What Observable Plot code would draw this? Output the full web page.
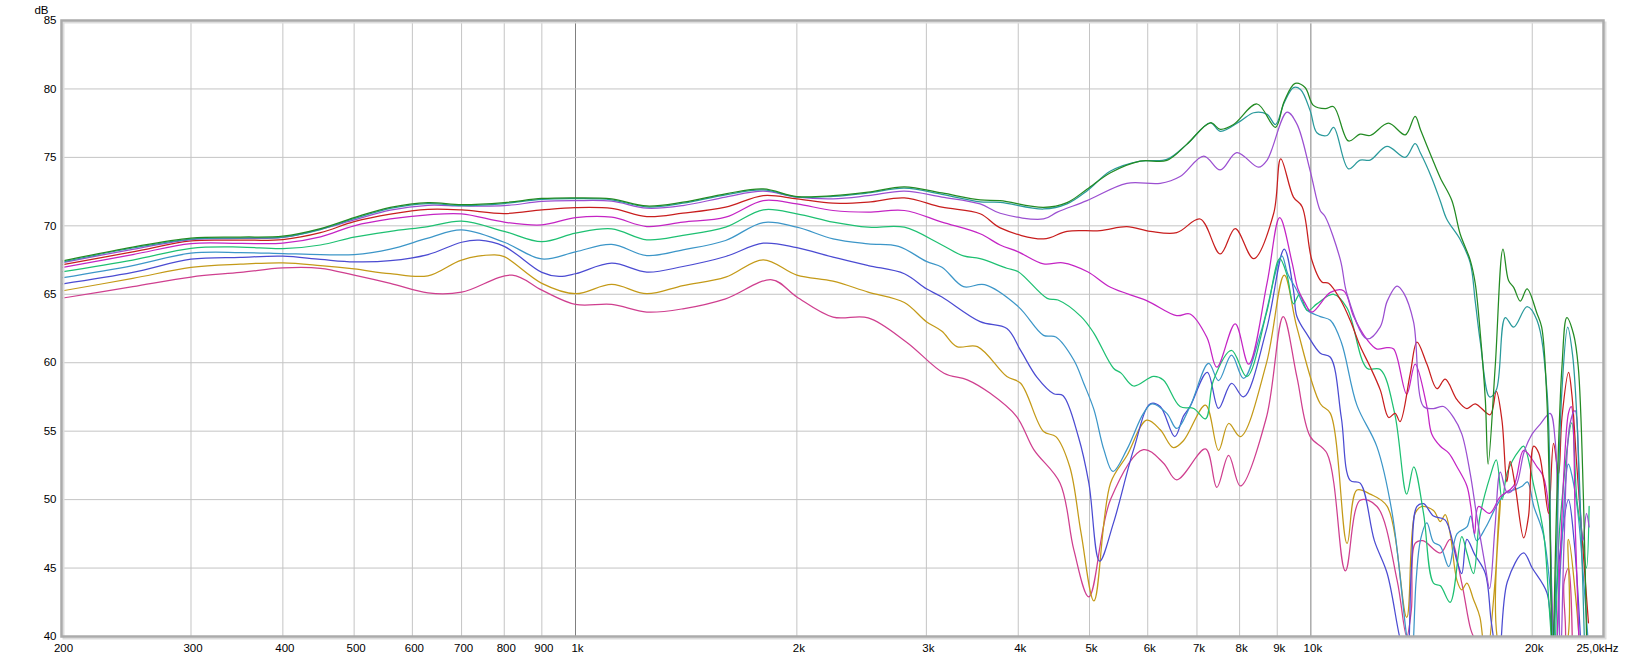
<!DOCTYPE html>
<html><head><meta charset="utf-8">
<script src="https://cdn.jsdelivr.net/npm/d3@7"></script>
<script src="https://cdn.jsdelivr.net/npm/@observablehq/plot@0.6"></script>
<style>html,body{margin:0;padding:0;background:#fff}svg{display:block}</style>
</head><body><div id="chart"></div>
<script>
// Series (off-axis angles) and their colours
const seriesNames = ["0°","10°","20°","30°","40°","50°","60°","70°","80°","90°"];
const seriesColors = ["#238b23","#2a9a9c","#9b4fd1","#c81e1e","#c424c4","#1ec072","#3c96c8","#4b4bd2","#c49a18","#cf3f8f"];

// [frequency Hz, level dB]
const deg0 = [[200,67.42],[250,68.45],[300,69.1],[350,69.18],[400,69.25],[450,69.8],[500,70.6],[560,71.35],[630,71.7],[700,71.55],[800,71.7],[900,72.0],[1000,72.05],[1120,71.97],[1250,71.45],[1400,71.73],[1600,72.34],[1800,72.7],[2000,72.14],[2240,72.2],[2500,72.46],[2800,72.85],[3150,72.4],[3550,71.9],[3780,71.84],[4330,71.35],[4660,71.7],[4960,72.67],[5340,73.88],[5860,74.73],[6370,74.78],[6780,75.95],[7300,77.53],[7530,77.05],[7850,77.4],[8450,78.9],[8950,77.2],[9200,79.1],[9520,80.4],[9820,80.1],[10080,78.8],[10460,78.56],[10740,78.7],[11250,76.2],[11670,76.7],[12040,76.6],[12750,77.5],[13440,76.65],[13860,78.0],[14100,77.0],[14600,75.0],[15000,73.5],[15550,71.85],[15960,69.4],[16470,67.5],[16730,65.8],[17000,62.1],[17270,57.25],[17420,52.6],[17810,59.7],[18250,68.3],[18570,66.0],[18870,65.5],[19270,64.5],[19680,65.4],[20300,63.6],[20600,62.6],[20940,57.25],[21150,47.5],[21300,38],[21600,50],[21950,59.7],[22290,63.3],[22760,62.1],[23100,59.7],[23480,50],[23750,38]];
const deg10 = [[200,67.35],[250,68.38],[300,69.03],[350,69.11],[400,69.18],[450,69.73],[500,70.52],[560,71.27],[630,71.62],[700,71.48],[800,71.63],[900,71.93],[1000,71.98],[1120,71.9],[1250,71.38],[1400,71.66],[1600,72.27],[1800,72.62],[2000,72.1],[2240,72.15],[2500,72.4],[2800,72.75],[3150,72.3],[3550,71.75],[3780,71.72],[4330,71.23],[4660,71.6],[4960,72.55],[5340,74.0],[5860,74.73],[6370,74.85],[6780,75.95],[7300,77.53],[7530,76.9],[8020,77.65],[8360,78.26],[8720,78.14],[8950,77.4],[9200,79.0],[9470,80.1],[9680,79.96],[9980,78.4],[10190,76.8],[10520,76.6],[10740,77.2],[11250,74.16],[11670,74.8],[12040,74.8],[12690,75.8],[13440,75.0],[13860,76.0],[14100,75.3],[14600,73.5],[15000,71.8],[15300,70.5],[15960,69.0],[16470,67.3],[16730,64.5],[17000,61.5],[17500,57.5],[17870,58.0],[18380,63.3],[18870,62.6],[19680,64.1],[20300,63.1],[20940,58.0],[21200,46],[21350,38],[21600,47],[21950,58],[22350,62.6],[22700,60.5],[23000,56],[23300,48],[23600,38]];
const deg20 = [[200,67.3],[250,68.28],[300,69.0],[350,69.08],[400,69.15],[450,69.75],[500,70.43],[560,71.15],[630,71.5],[700,71.45],[800,71.47],[900,71.78],[1000,71.84],[1120,71.8],[1250,71.29],[1400,71.48],[1600,72.1],[1800,72.53],[2000,72.1],[2240,71.97],[2500,72.2],[2800,72.53],[3150,72.1],[3550,71.6],[3780,70.92],[4330,70.5],[4520,71.0],[4960,71.84],[5620,73.1],[6240,73.1],[6640,73.6],[7150,75.1],[7530,74.08],[7930,75.35],[8490,74.28],[8720,74.8],[9280,78.3],[9570,77.45],[9980,74.0],[10300,71.1],[10450,70.7],[10970,67.5],[11200,65.0],[11920,61.74],[12420,62.6],[12700,64.5],[13100,65.6],[13370,65.1],[13790,63.0],[14230,56.8],[14680,56.65],[15150,56.8],[15630,56.0],[16040,54.8],[16470,51.9],[16810,48.8],[17270,45.1],[17500,43.5],[17800,48],[18100,52],[18500,50.5],[19000,51],[19500,53.5],[20000,54.8],[20500,55.5],[21150,56.3],[21490,54.3],[21700,46],[21850,38],[22100,47],[22500,55.5],[22870,56.5],[23200,50],[23450,47],[23700,49],[23900,48]];
const deg30 = [[200,67.15],[250,68.1],[300,68.9],[350,68.95],[400,69.0],[450,69.5],[500,70.3],[560,70.85],[630,71.2],[700,71.16],[800,70.9],[900,71.16],[1000,71.33],[1120,71.27],[1250,70.68],[1400,70.92],[1600,71.36],[1800,72.21],[2000,71.97],[2240,71.65],[2500,71.73],[2800,72.04],[3150,71.36],[3550,70.88],[3780,69.85],[4330,69.04],[4660,69.6],[5170,69.65],[5620,69.94],[6050,69.6],[6570,69.5],[7070,70.5],[7530,67.95],[7890,69.8],[8360,67.6],[8900,70.9],[9100,74.9],[9470,72.1],[9730,71.4],[10030,67.5],[10350,65.9],[10570,65.8],[10970,64.6],[11310,63.1],[11670,61.2],[12040,59.7],[12430,58.0],[12760,56.0],[13020,56.3],[13220,55.7],[13650,59.2],[13940,61.5],[14380,59.9],[14840,58.1],[15230,58.8],[15800,57.3],[16300,56.65],[16730,57.0],[17530,56.2],[17870,57.9],[18190,55.8],[18470,51.3],[18660,52.8],[18960,51.0],[19470,47.2],[19770,48.8],[20090,53.9],[20410,53.4],[20730,51.4],[21050,49.0],[21380,54.1],[21720,51.9],[21950,56.0],[22410,59.3],[22640,57.7],[23000,52.4],[23360,47.5],[23850,41.0]];
const deg40 = [[200,66.95],[250,67.9],[300,68.7],[350,68.72],[400,68.74],[450,69.2],[500,70.0],[560,70.5],[630,70.8],[700,70.87],[800,70.27],[900,70.07],[1000,70.6],[1120,70.63],[1250,69.95],[1400,70.27],[1600,70.63],[1800,71.85],[2000,71.6],[2240,71.12],[2500,71.0],[2800,71.12],[3150,70.27],[3550,69.42],[3780,68.6],[4000,68.1],[4330,67.22],[4600,67.3],[4970,66.65],[5340,65.51],[5980,64.54],[6570,63.44],[6850,63.56],[7220,61.86],[7450,59.67],[7890,62.84],[8230,59.9],[8720,65.85],[9070,70.6],[9430,67.3],[9600,65.4],[9800,64.43],[10030,63.7],[10630,65.14],[11080,65.26],[11430,63.4],[11920,61.7],[12300,61.0],[12690,61.1],[12960,61.0],[13500,57.7],[13860,59.9],[14380,56.8],[14600,54.8],[15000,53.9],[15400,53.4],[15800,52.4],[16300,51.0],[16500,49.5],[16700,47.5],[16900,49.5],[17500,49.0],[18090,50.2],[18870,51.0],[19470,53.6],[20300,52.4],[20700,51.7],[21050,49.5],[21300,42],[21500,38],[21800,45],[22400,56.3],[22600,56.8],[22900,47.5],[23200,38]];
const deg50 = [[200,66.64],[250,67.5],[300,68.36],[350,68.45],[400,68.33],[450,68.6],[500,69.18],[560,69.6],[630,69.95],[700,70.34],[800,69.6],[900,68.84],[1000,69.46],[1120,69.78],[1250,68.98],[1400,69.3],[1600,69.9],[1800,71.17],[2000,70.88],[2240,70.27],[2500,69.9],[2800,69.9],[3150,68.6],[3370,67.8],[3550,67.6],[3860,66.9],[4000,66.65],[4380,64.7],[4530,64.58],[4870,63.37],[5070,62.15],[5390,59.6],[5520,59.24],[5740,58.3],[6110,59.0],[6300,58.74],[6640,56.8],[6930,56.66],[7190,55.9],[7370,58.7],[7800,60.9],[8180,58.98],[8700,63.6],[9070,67.6],[9280,66.4],[9470,64.3],[9650,65.0],[9900,63.8],[10190,64.3],[10740,65.0],[11200,64.0],[11920,59.6],[12430,59.5],[13000,56.3],[13500,50.4],[13800,52.4],[14230,49.0],[14680,43.9],[15000,43.7],[15470,42.5],[16040,47.3],[16300,46.1],[16640,44.6],[16980,48.8],[17530,51.7],[17870,52.9],[18200,50],[18500,52],[19200,53.6],[19470,53.9],[20100,51],[20730,47.5],[21100,42],[21400,38],[21800,48],[22640,55.6],[23000,50],[23360,47.5],[23700,45],[23900,49.5]];
const deg60 = [[200,66.2],[250,67.1],[300,68.0],[350,68.05],[400,67.97],[450,67.9],[500,67.9],[560,68.3],[630,69.1],[700,69.7],[800,68.8],[900,67.58],[1000,68.1],[1120,68.64],[1250,67.83],[1400,68.25],[1600,68.93],[1800,70.24],[2000,69.9],[2240,69.05],[2500,68.69],[2750,68.5],[3000,67.4],[3150,66.98],[3370,65.56],[3600,65.7],[4000,64.1],[4330,62.0],[4500,61.88],[4760,60.2],[4910,58.5],[5070,56.57],[5230,53.65],[5380,52.06],[5620,53.65],[5920,56.3],[6080,57.0],[6370,56.3],[6570,55.2],[6850,56.8],[7260,59.95],[7490,58.7],[7800,60.56],[8100,58.85],[8570,62.4],[9130,67.8],[9300,66.5],[9570,65.3],[9880,63.85],[10300,63.37],[10630,63.1],[11000,61.5],[11550,56.9],[12300,53.85],[12900,49.0],[13500,40],[13700,38],[13900,44],[14100,47.1],[14380,48.3],[14680,46.9],[15000,46.6],[15400,45.1],[15800,47.5],[16300,48.0],[16500,48.8],[16800,47],[17300,48],[17870,49.5],[18400,50.5],[18870,50.7],[19400,51.0],[19700,51.3],[20100,49.5],[20700,47.5],[21200,43],[21500,38],[21900,46],[22400,52.6],[22700,51.5],[23100,48.8],[23500,44],[23800,40]];
const deg70 = [[200,65.75],[250,66.6],[300,67.56],[350,67.7],[400,67.78],[450,67.55],[500,67.37],[560,67.45],[630,67.9],[700,68.8],[740,68.95],[800,68.5],[900,66.6],[950,66.3],[1000,66.5],[1120,67.27],[1250,66.62],[1400,67.03],[1600,67.76],[1800,68.73],[2000,68.4],[2240,67.71],[2500,67.1],[2800,66.5],[3000,65.4],[3150,64.8],[3550,63.0],[3860,62.5],[4030,60.9],[4240,58.95],[4470,57.73],[4600,57.6],[4830,54.57],[4990,51.2],[5160,45.5],[5390,48.3],[5740,53.65],[6050,57.0],[6240,56.8],[6530,54.6],[6710,56.1],[6850,56.8],[7230,59.3],[7490,56.66],[7800,58.5],[8100,57.5],[8700,62.4],[9200,68.3],[9470,65.3],[9570,63.4],[9900,62.0],[10300,60.7],[10630,60.4],[11000,56],[11310,51.4],[11670,51.2],[12200,47],[12700,44.6],[13200,40],[13500,38],[13700,45],[13940,49.5],[14230,49.7],[14680,48.8],[15230,48.5],[15800,45.5],[16040,44.6],[16300,47.1],[16700,46],[17270,44.6],[17600,41],[18000,38],[18500,44],[19470,46.1],[20000,45],[20940,43.2],[21300,40],[21700,45],[22400,50.0],[22800,47],[23360,38]];
const deg80 = [[200,65.24],[250,66.16],[300,66.96],[350,67.2],[400,67.3],[450,67.1],[500,66.85],[560,66.5],[630,66.35],[700,67.5],[775,67.87],[800,67.75],[900,65.8],[1000,65.04],[1120,65.72],[1250,65.04],[1400,65.64],[1600,66.25],[1800,67.52],[2000,66.4],[2240,65.96],[2500,65.16],[2800,64.4],[3000,63.0],[3150,62.3],[3300,61.18],[3520,61.18],[3860,58.99],[4030,58.5],[4330,54.97],[4500,54.6],[4700,52.4],[4870,47.55],[5070,42.6],[5340,51.2],[5620,53.2],[5980,55.8],[6240,55.1],[6500,53.8],[6710,54.3],[7190,56.9],[7490,53.6],[7730,55.56],[8020,54.6],[8700,59.95],[9200,66.4],[9570,62.6],[10300,57.0],[10630,56.3],[11200,46.8],[11550,50.7],[12040,50.4],[12700,49.5],[13500,41.4],[13860,49.0],[14160,49.5],[14680,49.2],[15000,48.4],[15230,48.9],[15470,47.5],[15800,44.1],[16040,43.4],[16300,43.9],[16640,42.7],[16980,41.4],[17300,38],[17800,44],[18090,50],[18400,38],[21800,38],[22400,47.1],[22900,43],[23300,38]];
const deg90 = [[200,64.71],[250,65.56],[300,66.26],[350,66.6],[400,66.93],[450,66.9],[500,66.4],[560,65.8],[630,65.1],[700,65.15],[820,66.4],[900,65.3],[1000,64.26],[1120,64.26],[1250,63.7],[1400,63.94],[1600,64.67],[1850,66.06],[2000,64.8],[2240,63.33],[2500,63.28],[2820,61.5],[3170,59.23],[3410,58.75],[3660,57.78],[3980,56.07],[4200,53.65],[4560,51.2],[4760,46.34],[4990,42.9],[5340,50.0],[5920,53.65],[6300,52.68],[6570,51.45],[7190,53.7],[7450,50.9],[7730,53.24],[8020,51.0],[8700,56.0],[9170,63.37],[9570,58.98],[9980,54.6],[10520,53.37],[11140,44.8],[11670,49.95],[12300,49.5],[13100,44.1],[13500,40],[13700,42],[13860,46.8],[14200,47.0],[15000,46.1],[15470,47.1],[16040,43.9],[16500,40.5],[16800,39.5],[17300,38],[21700,38],[22100,44],[22400,45],[22700,38]];

const allSeries = [deg0, deg10, deg20, deg30, deg40, deg50, deg60, deg70, deg80, deg90];

// Axis ticks and labels
const xTicks = [200,300,400,500,600,700,800,900,1000,2000,3000,4000,5000,6000,7000,8000,9000,10000,20000,25000];
const xTickLabels = ["200","300","400","500","600","700","800","900","1k","2k","3k","4k","5k","6k","7k","8k","9k","10k","20k","25,0kHz"];
const yTicks = [40,45,50,55,60,65,70,75,80,85];
const yUnit = "dB";

const xLabelOf = new Map(xTicks.map((t, i) => [t, xTickLabels[i]]));
const xDomain = [xTicks[0], xTicks[xTicks.length - 1]];
const yDomain = [yTicks[0], yTicks[yTicks.length - 1]];
const lightGridX = xTicks.filter(t => t !== xDomain[0] && t !== xDomain[1] && t !== 1000 && t !== 10000);
const darkGridX = [1000, 10000];
const gridY = yTicks.slice(1, -1);

// draw 90° first so 0° ends on top
const rows = allSeries.flatMap((pts, i) => pts.map(([f, db]) => ({f, db, s: seriesNames[i], k: i}))).sort((a, b) => b.k - a.k);

const chart = Plot.plot({
  width: 1633,
  height: 663,
  marginLeft: 61,
  marginRight: 30,
  marginTop: 20,
  marginBottom: 27,
  style: {fontFamily: "'Liberation Sans', Arial, sans-serif", fontSize: "11.5px", background: "#fff", color: "#000"},
  x: {type: "log", domain: xDomain},
  y: {domain: yDomain},
  color: {domain: seriesNames, range: seriesColors},
  marks: [
    Plot.gridX(lightGridX, {stroke: "#c4c4c4", strokeOpacity: 1, strokeWidth: 1}),
    Plot.gridX(darkGridX, {stroke: "#808080", strokeOpacity: 1, strokeWidth: 1}),
    Plot.gridY(gridY, {stroke: "#c4c4c4", strokeOpacity: 1, strokeWidth: 1}),
    Plot.line(rows, {x: "f", y: "db", z: "s", stroke: "s", curve: "catmull-rom", strokeWidth: 1.25, clip: true}),
    Plot.frame({stroke: "#dddddd", strokeWidth: 2, dx: 2, dy: 2}),
    Plot.frame({stroke: "#ababab", strokeWidth: 2.5}),
    Plot.axisX(xTicks.slice(0, -1), {tickSize: 0, tickPadding: 7, tickFormat: d => xLabelOf.get(d), label: null, dx: 2}),
    Plot.axisX(xTicks.slice(-1), {tickSize: 0, tickPadding: 7, tickFormat: d => xLabelOf.get(d), label: null, dx: -6}),
    Plot.axisY(yTicks, {tickSize: 0, tickPadding: 5, label: null}),
    Plot.text([yUnit], {frameAnchor: "top-left", textAnchor: "end", lineAnchor: "bottom", dx: -13, dy: -7, fontSize: 11.5})
  ]
});
document.getElementById("chart").appendChild(chart);
</script>
</body></html>
